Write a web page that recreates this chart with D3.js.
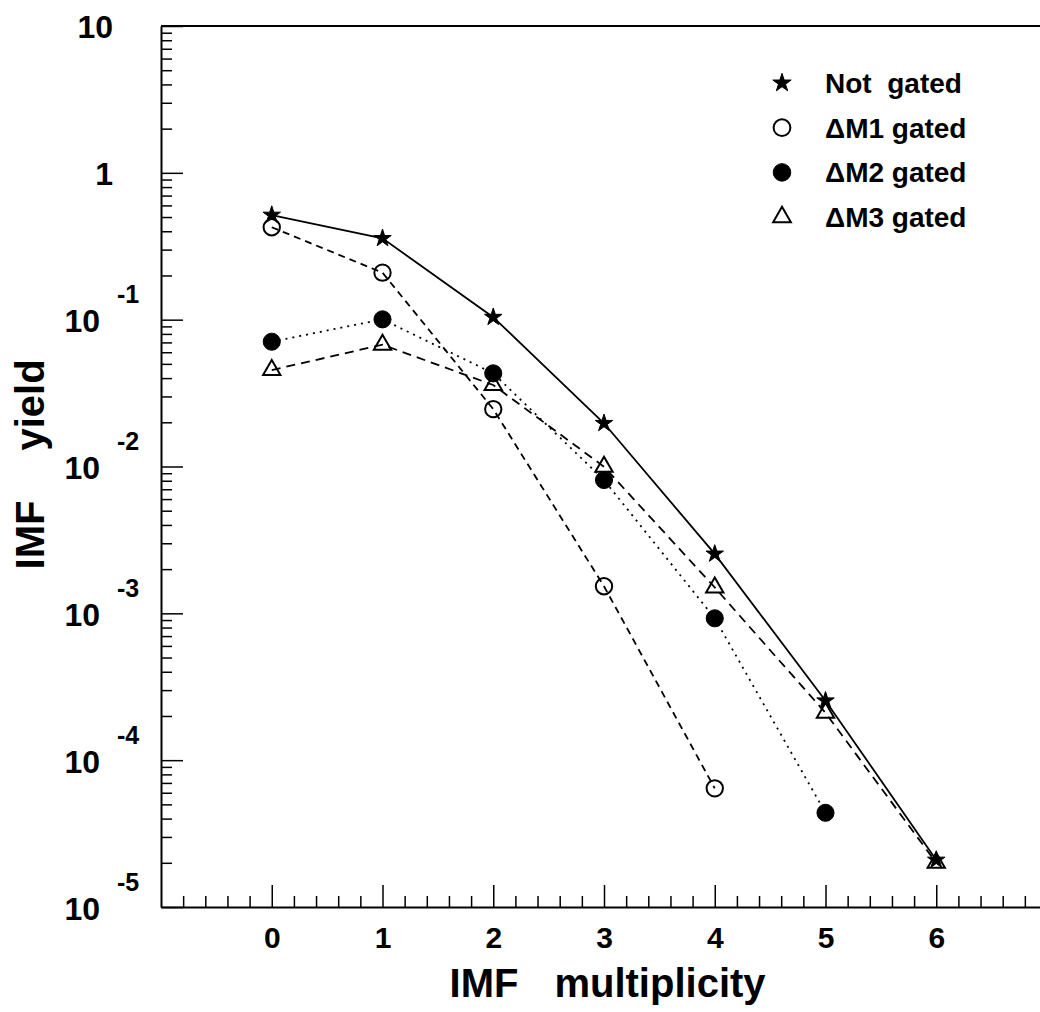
<!DOCTYPE html>
<html>
<head>
<meta charset="utf-8">
<script src="https://cdn.jsdelivr.net/npm/d3@7"></script>
<style>
body { margin: 0; background: #fff; }
text { font-family: "Liberation Sans", Arial, Helvetica, sans-serif; font-weight: bold; fill: #000; }
</style>
</head>
<body>
<div id="chart"></div>
<script>
var w = 1040;
var h = 1012;

// IMF multiplicity
var multiplicity = [0, 1, 2, 3, 4, 5, 6];
// yields
var notGated = [0.516, 0.358, 0.104, 0.0197, 0.00254, 2.54e-4, 2.09e-5];
var dM1 = [0.426, 0.209, 0.0246, 0.00153, 6.43e-5];
var dM2 = [0.0708, 0.1005, 0.0431, 0.00809, 9.25e-4, 4.38e-5];
var dM3 = [0.0454, 0.0675, 0.0359, 0.00997, 0.0015, 2.1e-4, 2.0e-5];

var xTicks = [0, 1, 2, 3, 4, 5, 6];
var decades = [1e-5, 1e-4, 1e-3, 1e-2, 1e-1, 1, 10];
var decadeExp = [-5, -4, -3, -2, -1, 0, 1];
var legendNames = ["Not  gated", "\u0394M1 gated", "\u0394M2 gated", "\u0394M3 gated"];

var x = d3.scaleLinear()
    .domain([-1, 7])
    .range([161, 1047]);

var y = d3.scaleLog()
    .domain([1e-5, 10])
    .range([907, 26]);

var svg = d3.select("#chart")
    .append("svg")
    .attr("width", w)
    .attr("height", h);

// minor ticks
var xMinor = d3.range(-1, 7.001, 0.2).filter(function(v) {
    return Math.abs(v - Math.round(v)) > 0.01;
});
var yMinor = [];
decades.slice(0, 6).forEach(function(d) {
    for (var k = 2; k <= 9; k++) yMinor.push(d * k);
});

svg.append("g")
    .attr("transform", "translate(0,907)")
    .call(d3.axisBottom(x).tickValues(xMinor).tickSizeInner(-11).tickSizeOuter(0).tickFormat(""))
    .call(function(g) { g.select(".domain").remove(); });

var xAxis = svg.append("g")
    .attr("transform", "translate(0,907)")
    .call(d3.axisBottom(x).tickValues(xTicks).tickSizeInner(-22).tickSizeOuter(0).tickPadding(20).tickFormat(d3.format("d")));
xAxis.selectAll("text").style("font-size", "30px");

svg.append("g")
    .attr("transform", "translate(161,0)")
    .call(d3.axisLeft(y).tickValues(yMinor).tickSizeInner(-11).tickSizeOuter(0).tickFormat(""))
    .call(function(g) { g.select(".domain").remove(); });

var yAxis = svg.append("g")
    .attr("transform", "translate(161,0)")
    .call(d3.axisLeft(y).tickValues(decades).tickSizeInner(-22).tickSizeOuter(0).tickFormat(""));

yAxis.selectAll(".tick").each(function(d, i) {
    var e = decadeExp[i];
    var g = d3.select(this);
    if (e >= 0) {
        g.append("text")
            .attr("x", -48)
            .attr("dy", "0.36em")
            .attr("text-anchor", "end")
            .style("font-size", "32px")
            .text(e === 1 ? "10" : "1");
    } else {
        g.append("text")
            .attr("x", -61)
            .attr("dy", "0.38em")
            .attr("text-anchor", "end")
            .style("font-size", "32px")
            .text("10");
        g.append("text")
            .attr("x", -44)
            .attr("y", -17)
            .attr("text-anchor", "start")
            .style("font-size", "25px")
            .text("-" + Math.abs(e));
    }
});

svg.selectAll(".domain").attr("stroke-width", 2);
svg.selectAll(".tick line").attr("stroke-width", 1.5);

// top frame
svg.append("line")
    .attr("x1", x(-1))
    .attr("x2", x(7))
    .attr("y1", y(10))
    .attr("y2", y(10))
    .attr("stroke", "black")
    .attr("stroke-width", 2);

var series = [
    { values: notGated, dash: null, type: d3.symbolStar, size: 95, fill: "black" },
    { values: dM1, dash: "7,5", type: d3.symbolCircle, size: 210, fill: "none" },
    { values: dM2, dash: "2,5", type: d3.symbolCircle, size: 230, fill: "black" },
    { values: dM3, dash: "9,6", type: d3.symbolTriangle, size: 130, fill: "none" }
];

var line = d3.line()
    .x(function(d, i) { return x(multiplicity[i]); })
    .y(function(d) { return y(d); });

series.forEach(function(s) {
    svg.append("path")
        .datum(s.values)
        .attr("d", line)
        .attr("fill", "none")
        .attr("stroke", "black")
        .attr("stroke-width", 1.8)
        .attr("stroke-dasharray", s.dash);

    svg.selectAll(null)
        .data(s.values)
        .enter()
        .append("path")
        .attr("transform", function(d, i) {
            return "translate(" + x(multiplicity[i]) + "," + y(d) + ")";
        })
        .attr("d", d3.symbol().type(s.type).size(s.size))
        .attr("fill", s.fill)
        .attr("stroke", "black")
        .attr("stroke-width", s.fill === "none" ? 2 : 1);
});

// legend
var legend = svg.selectAll(".legend")
    .data(series)
    .enter()
    .append("g")
    .attr("class", "legend")
    .attr("transform", function(d, i) { return "translate(782," + (83 + i * 44.7) + ")"; });

legend.append("path")
    .attr("d", function(d) { return d3.symbol().type(d.type).size(d.size * (d.type === d3.symbolStar ? 1.1 : 1.05))(); })
    .attr("fill", function(d) { return d.fill; })
    .attr("stroke", "black")
    .attr("stroke-width", function(d) { return d.fill === "none" ? 2 : 1; });

legend.append("text")
    .attr("x", 43)
    .attr("dy", "0.36em")
    .style("font-size", "28px")
    .style("white-space", "pre")
    .text(function(d, i) { return legendNames[i]; });

// axis titles
svg.append("text")
    .attr("x", 484)
    .attr("y", 997)
    .attr("text-anchor", "middle")
    .style("font-size", "40px")
    .text("IMF");

svg.append("text")
    .attr("x", 660)
    .attr("y", 997)
    .attr("text-anchor", "middle")
    .style("font-size", "40px")
    .text("multiplicity");

svg.append("text")
    .attr("transform", "translate(44,535) rotate(-90)")
    .attr("text-anchor", "middle")
    .style("font-size", "40px")
    .text("IMF");

svg.append("text")
    .attr("transform", "translate(44,405) rotate(-90)")
    .attr("text-anchor", "middle")
    .style("font-size", "40px")
    .text("yield");
</script>
</body>
</html>
